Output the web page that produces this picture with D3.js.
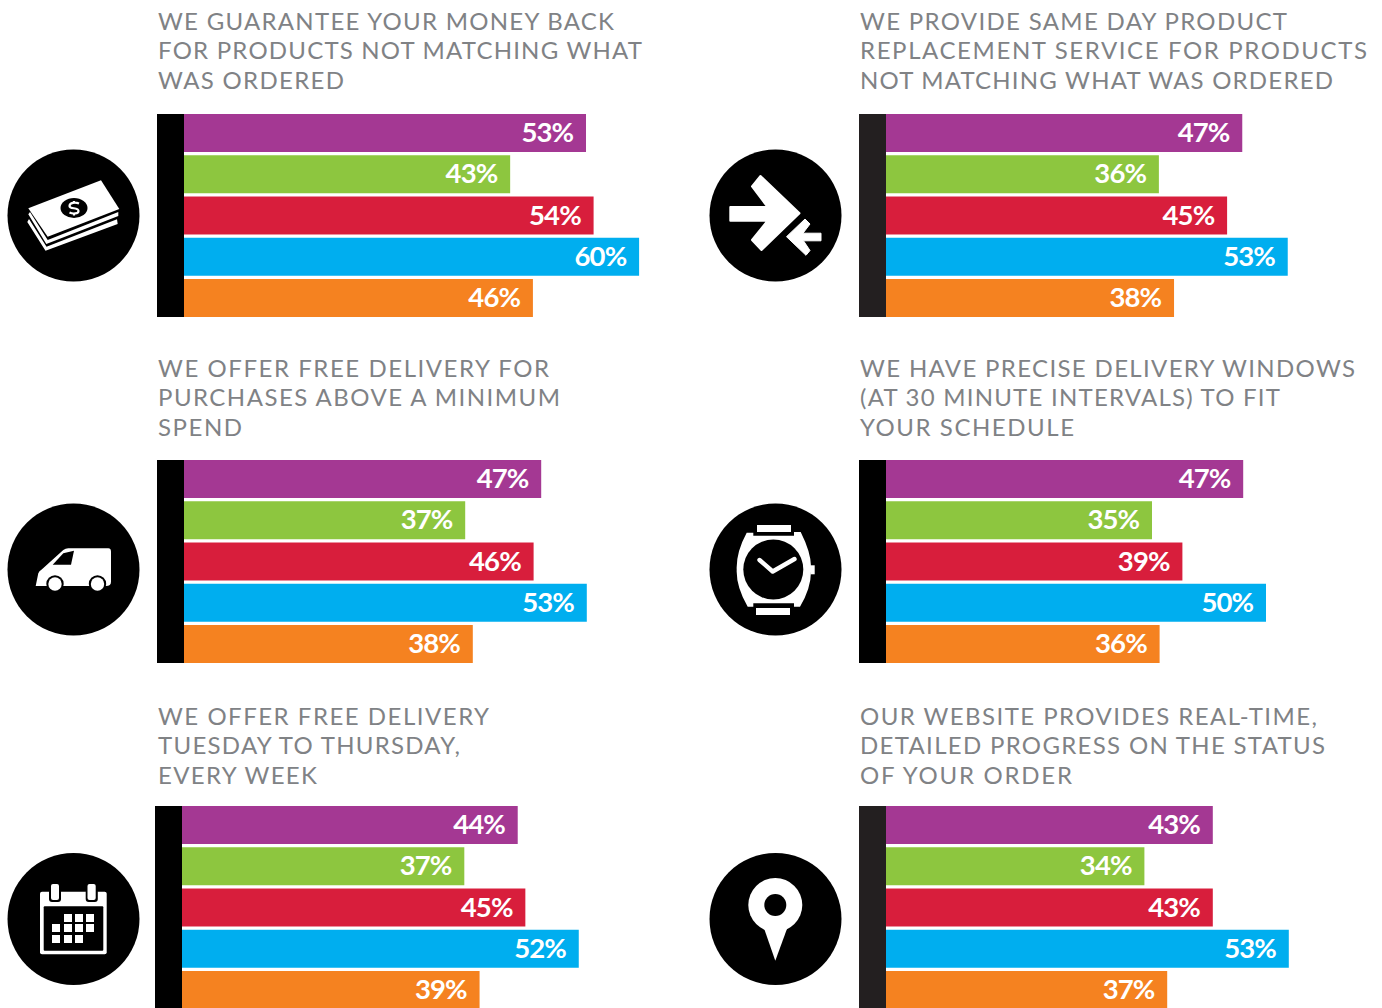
<!DOCTYPE html>
<html>
<head>
<meta charset="utf-8">
<script src="https://cdn.jsdelivr.net/npm/d3@7"></script>
<style>
  html, body { margin: 0; padding: 0; background: #fff; overflow: hidden; }
  .title { font-family: Lato, sans-serif; font-size: 24px; fill: #808285; }
  .value { font-family: Lato, sans-serif; font-weight: 700; font-size: 27.5px; fill: #fff; text-anchor: end; letter-spacing: -0.9px; }
</style>
</head>
<body>
<svg id="chart" width="1382" height="1008"></svg>
<script>
var groups = ['a', 'b', 'c', 'd', 'e']
var colors = ['#a43893', '#8dc63f', '#d81e3c', '#00aeef', '#f58220']

var moneyTitle = ['WE GUARANTEE YOUR MONEY BACK', 'FOR PRODUCTS NOT MATCHING WHAT', 'WAS ORDERED']
var moneyValues = [53, 43, 54, 60, 46]

var replaceTitle = ['WE PROVIDE SAME DAY PRODUCT', 'REPLACEMENT SERVICE FOR PRODUCTS', 'NOT MATCHING WHAT WAS ORDERED']
var replaceValues = [47, 36, 45, 53, 38]

var vanTitle = ['WE OFFER FREE DELIVERY FOR', 'PURCHASES ABOVE A MINIMUM', 'SPEND']
var vanValues = [47, 37, 46, 53, 38]

var watchTitle = ['WE HAVE PRECISE DELIVERY WINDOWS', '(AT 30 MINUTE INTERVALS) TO FIT', 'YOUR SCHEDULE']
var watchValues = [47, 35, 39, 50, 36]

var calendarTitle = ['WE OFFER FREE DELIVERY', 'TUESDAY TO THURSDAY,', 'EVERY WEEK']
var calendarValues = [44, 37, 45, 52, 39]

var pinTitle = ['OUR WEBSITE PROVIDES REAL-TIME,', 'DETAILED PROGRESS ON THE STATUS', 'OF YOUR ORDER']
var pinValues = [43, 34, 43, 53, 37]

var svg = d3.select('#chart')

function poly (g, pts, fill) {
  return g.append('polygon')
    .attr('points', pts.map((p) => p.join(',')).join(' '))
    .attr('fill', fill || '#fff')
}

function box (g, x0, y0, x1, y1, fill, r) {
  return g.append('rect')
    .attr('x', x0).attr('y', y0)
    .attr('width', x1 - x0).attr('height', y1 - y0)
    .attr('rx', r || 0)
    .attr('fill', fill || '#fff')
}

function dot (g, x, y, r, fill) {
  return g.append('circle').attr('cx', x).attr('cy', y).attr('r', r).attr('fill', fill || '#fff')
}

// icons are drawn around the centre of their black disc
var icons = {
  money: function (g) {
    poly(g, [[-46.2, 6.5], [-28, 35.2], [44.2, 8.5], [43.5, 3.8], [-27, 31.2], [-44.5, 3.5]])
    poly(g, [[-45.2, -1.2], [-27.2, 28.5], [44.8, 0.5], [44.8, -3.5], [-25.8, 24.5], [-43.5, -3.5]])
    poly(g, [[-45.2, -7.2], [27.5, -35.2], [45.8, -6.5], [-25.8, 21.2]])
    g.append('ellipse').attr('cx', 0.5).attr('cy', -7.5).attr('rx', 13.5).attr('ry', 10).attr('fill', '#000')
    g.append('path')
      .attr('d', 'M5.5,-12 C2,-13.5 -4,-13 -4,-9.5 C-4,-6 5,-8.5 5,-4.5 C5,-1.5 -1,-1.5 -4,-3 M0.5,-14.5 V-12.5 M0.5,-2 V0')
      .attr('fill', 'none').attr('stroke', '#fff').attr('stroke-width', 2.2)
  },
  arrows: function (g) {
    poly(g, [[-45.2, -8.5], [-8, -8.5], [-23.5, -29], [-15, -39.5], [24, -2.2], [-14, 34.5], [-23.5, 24.5], [-8, 5.2], [-45.2, 5.2]])
      .attr('stroke', '#fff').attr('stroke-width', 2).attr('stroke-linejoin', 'round')
    poly(g, [[11, 21.2], [29.5, 3.5], [34.5, 8.5], [27.5, 17.7], [45.5, 17.7], [45.5, 25.3], [28, 25.3], [34.5, 35], [30.5, 39.8]])
      .attr('stroke', '#fff').attr('stroke-width', 1).attr('stroke-linejoin', 'round')
  },
  van: function (g) {
    g.append('path')
      .attr('d', 'M-37.8,16.5 L-35.2,3.8 Q-34.5,1.5 -31.8,0 L-10.2,-19.5 Q-8,-21.2 -5.2,-21.2 L34.8,-21.2 Q37.5,-21.2 37.5,-17.8 L37.5,12.2 Q37.5,16.5 32.5,16.5 Z')
      .attr('fill', '#fff')
    poly(g, [[-20.8, -4.8], [-10.2, -16.2], [0.5, -18.8], [-2.5, -4.8]], '#000')
    ;[-18.5, 24].forEach(function (x) {
      dot(g, x, 14.5, 8.7, '#000')
      dot(g, x, 14.5, 6.7)
    })
  },
  watch: function (g) {
    box(g, -18.5, -44.5, 15.5, -37.5)
    box(g, -19.5, 38.5, 14.5, 45.5)
    box(g, 35, -4.2, 39.2, 4.8)
    g.append('path')
      .attr('d', 'M-28.8,-36.8 L-22.2,-36.8 L-22.2,-33.8 L18.5,-33.8 L18.5,-37.5 L25.2,-37.5 Q36.5,-15 35.5,0 Q36,18 24.5,37.2 L18.5,37.2 L18.5,33.8 L-22.2,33.8 L-22.2,37.2 L-27.8,37.2 Q-39.5,17 -38.8,0 Q-39.5,-17 -28.8,-36.8 Z')
      .attr('fill', '#fff')
    dot(g, -2.2, 0, 30, '#000')
    g.append('path')
      .attr('d', 'M-16,-9.5 L-2.8,2 L19,-10.5')
      .attr('fill', 'none').attr('stroke', '#fff').attr('stroke-width', 4.4)
      .attr('stroke-linecap', 'round').attr('stroke-linejoin', 'round')
  },
  calendar: function (g) {
    box(g, -33.5, -27.3, 33.2, 35.3, '#fff', 2)
    box(g, -29.8, -12.7, 29.8, 31.7, '#000', 1)
    ;[[-24.5, -12.5, -22.5, -14.5], [12.2, 24.3, 14, 22.2]].forEach(function (r) {
      box(g, r[0], -30, r[1], -17, '#000', 3)
      box(g, r[2], -35, r[3], -19, '#fff', 2)
    })
    var cells = [[-5.5, -1], [5.5, -1], [16.5, -1], [-17.5, 9], [-5.5, 9], [5.5, 9], [16.5, 9], [-17.5, 20], [-5.5, 20], [5.5, 20]]
    cells.forEach(function (c) {
      box(g, c[0] - 4, c[1] - 4, c[0] + 4, c[1] + 4)
    })
  },
  pin: function (g) {
    dot(g, -0.2, -14, 27)
    poly(g, [[-11.5, 9.3], [-0.2, 41.7], [11.7, 9.3]])
    dot(g, -0.2, -14, 11, '#000')
  }
}

// layout per panel, lineWidths are the set widths of the title lines
var panels = [
  { title: moneyTitle, values: moneyValues, icon: 'money', left: 157, top: 114, base: 30, cy: 215.5, unit: 7.585, spine: '#000', lineWidths: [456, 484, 186] },
  { title: replaceTitle, values: replaceValues, icon: 'arrows', left: 859, top: 114, base: 30, cy: 215.5, unit: 7.58, spine: '#231f20', lineWidths: [427, 507, 473] },
  { title: vanTitle, values: vanValues, icon: 'van', left: 157, top: 460, base: 377, cy: 569.5, unit: 7.6, spine: '#000', lineWidths: [391, 402, 84] },
  { title: watchTitle, values: watchValues, icon: 'watch', left: 859, top: 460, base: 377, cy: 569.5, unit: 7.6, spine: '#000', lineWidths: [495, 420, 214] },
  { title: calendarTitle, values: calendarValues, icon: 'calendar', left: 155, top: 806, base: 725, cy: 919, unit: 7.63, spine: '#000', lineWidths: [331, 302, 159] },
  { title: pinTitle, values: pinValues, icon: 'pin', left: 859, top: 806, base: 725, cy: 919, unit: 7.6, spine: '#231f20', lineWidths: [457, 465, 212] }
]

panels.forEach(function (p) {
  var g = svg.append('g')
  var spineWidth = 27
  var barStart = p.left + spineWidth
  var textLeft = p.left < 500 ? 158 : 860
  var discX = p.left < 500 ? 73.5 : 775.5

  g.append('g').selectAll('text')
    .data(p.title)
    .join('text')
    .attr('class', 'title')
    .attr('x', textLeft)
    .attr('y', (d, i) => p.base + Math.floor(i * 29.5))
    .attr('textLength', (d, i) => p.lineWidths[i])
    .attr('lengthAdjust', 'spacing')
    .text((d) => d)

  var x = d3.scaleLinear().domain([0, 100]).range([barStart, barStart + p.unit * 100])
  var y = d3.scaleBand().domain(groups).range([p.top, p.top + 203]).paddingInner(0.079)

  g.append('rect')
    .attr('x', p.left).attr('y', p.top)
    .attr('width', spineWidth).attr('height', 203)
    .attr('fill', p.spine)

  var rows = g.append('g').selectAll('g')
    .data(p.values)
    .join('g')

  rows.append('rect')
    .attr('x', barStart)
    .attr('y', (d, i) => y(groups[i]))
    .attr('width', (d) => x(d) - barStart)
    .attr('height', y.bandwidth())
    .attr('fill', (d, i) => colors[i])

  rows.append('text')
    .attr('class', 'value')
    .attr('x', (d) => x(d) - 12.8)
    .attr('y', (d, i) => y(groups[i]) + y.bandwidth() / 2 + 9.2)
    .text((d) => d + '%')

  var icon = g.append('g').attr('transform', 'translate(' + discX + ',' + p.cy + ')')
  dot(icon, 0, 0, 66, '#000')
  icons[p.icon](icon)
})
</script>
</body>
</html>
